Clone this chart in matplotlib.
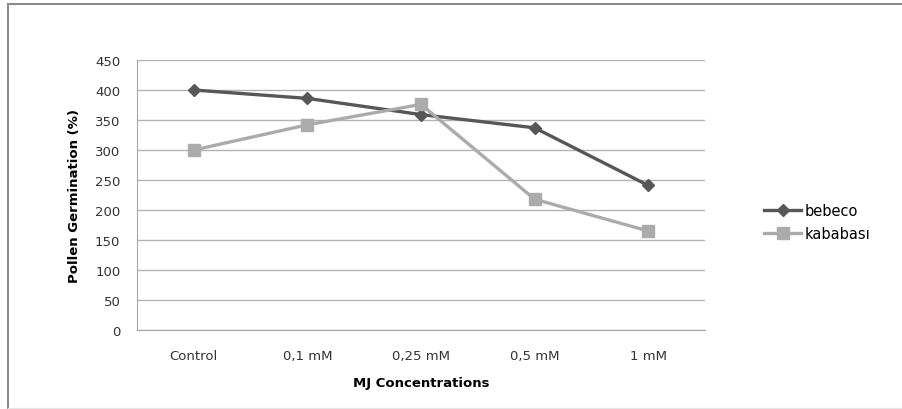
import matplotlib.pyplot as plt
from matplotlib.lines import Line2D

plt.rcParams['font.family'] = ['DejaVu Sans']

categories = ['Control', '0,1 mM', '0,25 mM', '0,5 mM', '1 mM']
bebeco = [400, 386, 359, 337, 241]
kababasi = [300, 342, 376, 218, 165]
yticks = [0, 50, 100, 150, 200, 250, 300, 350, 400, 450]

W, H = 903, 410
fig = plt.figure(figsize=(W / 100, H / 100), dpi=100)

# outer frame of the chart area (top and left dark, bottom faint)
fig.lines.append(Line2D([8 / W, 1], [1 - 5 / H, 1 - 5 / H], transform=fig.transFigure,
                        color='#8c8c8c', linewidth=1.5))
fig.lines.append(Line2D([8 / W, 8 / W], [0, 1 - 5 / H], transform=fig.transFigure,
                        color='#8c8c8c', linewidth=1.5))
fig.lines.append(Line2D([8 / W, 1], [1.5 / H, 1.5 / H], transform=fig.transFigure,
                        color='#e6e6e6', linewidth=1))

ax = fig.add_axes([137 / W, 1 - 331 / H, (705 - 137) / W, (331 - 61) / H])
x = [i + 0.5 for i in range(len(categories))]

ax.plot(x, bebeco, color='#575757', linewidth=2.4, marker='D', markersize=6.5,
        label='bebeco', zorder=3)
ax.plot(x, kababasi, color='#ababab', linewidth=2.4, marker='s', markersize=9,
        label='kababası', zorder=3)

ax.set_xlim(0, 5)
ax.set_ylim(0, 450)
ax.set_yticks(yticks)
ax.set_xticks(x)
ax.set_xticklabels(categories)
ax.yaxis.grid(True, color='#b3b3b3', linewidth=1)
ax.set_axisbelow(True)
for s in ['top', 'right']:
    ax.spines[s].set_visible(False)
for s in ['left', 'bottom']:
    ax.spines[s].set_color('#a6a6a6')
ax.tick_params(length=0, labelsize=9.5, colors='#333333')
ax.tick_params(axis='x', pad=14)
ax.tick_params(axis='y', pad=12)

ax.set_ylabel('Pollen Germination (%)', fontsize=9.5, fontweight='bold',
              labelpad=10)
ax.set_xlabel('MJ Concentrations', fontsize=9.5, fontweight='bold', labelpad=10)

ax.legend(loc='center left', bbox_to_anchor=(1.08, 0.40), frameon=False,
          fontsize=10.5, handlelength=2.6, labelspacing=0.6, handletextpad=0.2)

fig.savefig('out.png', dpi=100)
